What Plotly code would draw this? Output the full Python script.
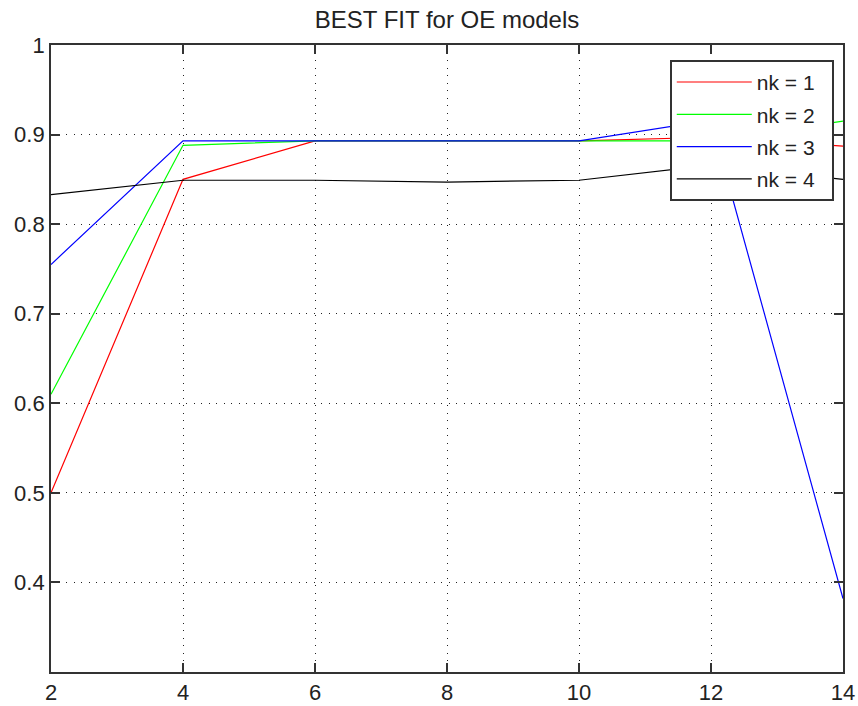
import plotly.graph_objects as go

# Model orders on the x axis
orders = [2, 4, 6, 8, 10, 12, 14]

# Best fit per nk value
fit_nk1 = [0.500, 0.850, 0.893, 0.893, 0.893, 0.897, 0.887]
fit_nk2 = [0.610, 0.888, 0.893, 0.893, 0.893, 0.893, 0.915]
fit_nk3 = [0.755, 0.893, 0.893, 0.893, 0.893, 0.916, 0.382]
fit_nk4 = [0.833, 0.849, 0.849, 0.847, 0.849, 0.866, 0.850]

series_names = ["nk = 1", "nk = 2", "nk = 3", "nk = 4"]
series_colors = ["#ff0000", "#00ff00", "#0000ff", "#000000"]

y_ticks = [0.4, 0.5, 0.6, 0.7, 0.8, 0.9, 1.0]
y_tick_text = ["0.4", "0.5", "0.6", "0.7", "0.8", "0.9", "1"]
x_ticks = [2, 4, 6, 8, 10, 12, 14]

FONT = "Liberation Sans, Arial, sans-serif"
TEXT_COLOR = "#222222"
PAD = "\u00a0\u00a0"  # right padding inside the legend box

fig = go.Figure()
for name, color, vals in zip(series_names, series_colors,
                             [fit_nk1, fit_nk2, fit_nk3, fit_nk4]):
    fig.add_trace(go.Scatter(x=orders, y=vals, mode="lines", name=name + PAD,
                             legendgroup=name,
                             line=dict(color=color, width=1.2)))

axis_common = dict(
    showline=True, linecolor="#333333", linewidth=1.8, mirror="ticks",
    ticks="inside", ticklen=9, tickcolor="#333333", tickwidth=1.8,
    showgrid=True, gridcolor="#222222", gridwidth=1.2, griddash="1px,6.5px",
    zeroline=False, automargin=False,
    tickfont=dict(family=FONT, size=22, color=TEXT_COLOR),
)

fig.update_layout(
    width=858, height=706,
    margin=dict(l=51, r=15, t=45, b=34),
    paper_bgcolor="white", plot_bgcolor="white",
    title=dict(text="BEST FIT for OE models", x=0.5, xref="paper", xanchor="center",
               y=1 - 20 / 706, yanchor="middle",
               font=dict(family=FONT, size=24, color=TEXT_COLOR)),
    showlegend=True,
    legend=dict(x=0.9886, xanchor="right", y=0.976, yanchor="top",
                bgcolor="white", bordercolor="#333333", borderwidth=1.8,
                itemwidth=75, tracegroupgap=2,
                font=dict(family=FONT, size=21, color=TEXT_COLOR)),
)
fig.update_xaxes(range=[2, 14], tickvals=x_ticks, **axis_common)
fig.update_yaxes(range=[0.3, 1.0], tickvals=y_ticks, ticktext=y_tick_text, **axis_common)

fig.write_html("out.html")
